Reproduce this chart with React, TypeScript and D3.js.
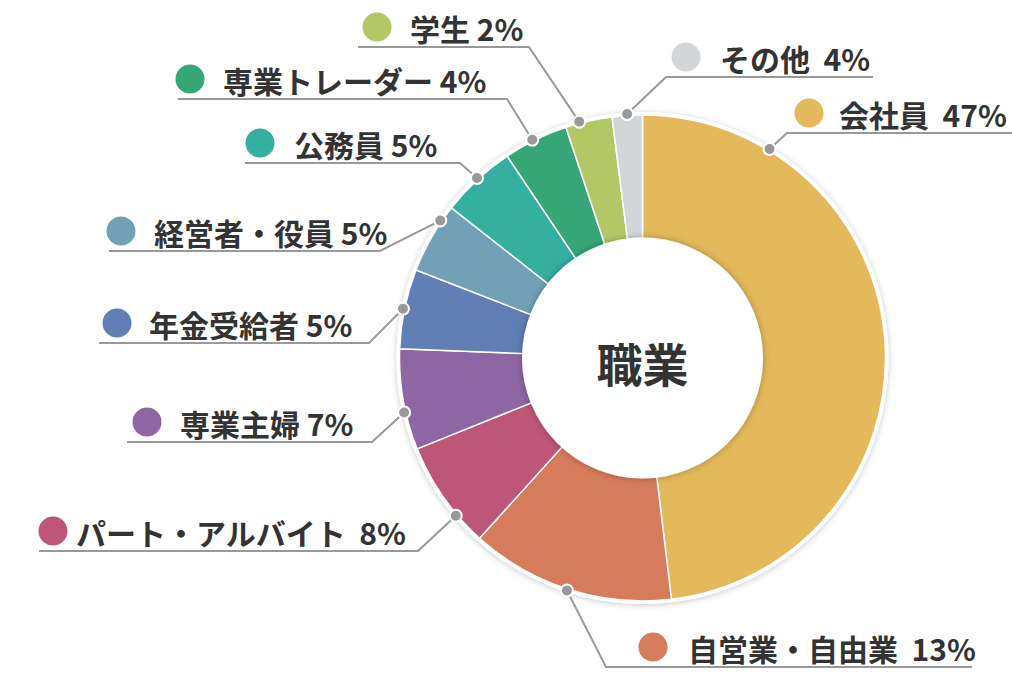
import React from "react";
import * as d3 from "d3";

const categories = [
  "会社員",
  "自営業・自由業",
  "パート・アルバイト",
  "専業主婦",
  "年金受給者",
  "経営者・役員",
  "公務員",
  "専業トレーダー",
  "学生",
  "その他",
];
// slice shares as drawn in the picture
const values = [48.1, 13.6, 7.2, 6.7, 5.3, 4.7, 5.0, 4.3, 3.1, 2.0];
const labelTexts = [
  "会社員  47%",
  "自営業・自由業  13%",
  "パート・アルバイト  8%",
  "専業主婦 7%",
  "年金受給者 5%",
  "経営者・役員 5%",
  "公務員 5%",
  "専業トレーダー 4%",
  "学生 2%",
  "その他  4%",
];
const colors = [
  "#E3B95B",
  "#D67B5C",
  "#BD5678",
  "#8D66A3",
  "#617FB4",
  "#72A0B6",
  "#35AFA0",
  "#36A676",
  "#B3C865",
  "#D3D6D8",
];
const centerTitle = "職業";

// label layout: anchor angle on ring (deg, clockwise from top), elbow point, far end of leader, marker x, text x
const labelLayout = [
  { angle: 31.3, elbowX: 787, lineY: 133, endX: 1012, markerX: 809, textX: 839 },
  { angle: 198, elbowX: 606, lineY: 667, endX: 972, markerX: 653, textX: 688 },
  { angle: 229.8, elbowX: 418, lineY: 551, endX: 39, markerX: 53, textX: 76 },
  { angle: 257.1, elbowX: 372, lineY: 442, endX: 127, markerX: 147, textX: 180 },
  { angle: 281.6, elbowX: 369, lineY: 343, endX: 99, markerX: 117, textX: 149 },
  { angle: 304.2, elbowX: 380, lineY: 251, endX: 109, markerX: 121, textX: 154 },
  { angle: 317.4, elbowX: 460, lineY: 163, endX: 245, markerX: 260, textX: 294 },
  { angle: 333.2, elbowX: 507, lineY: 99, endX: 178, markerX: 190, textX: 223 },
  { angle: 345.0, elbowX: 529, lineY: 47, endX: 358, markerX: 377, textX: 410 },
  { angle: 356.4, elbowX: 666, lineY: 77, endX: 873, markerX: 686, textX: 720 },
];

const W = 1012;
const H = 684;
const cx = 642.5;
const cy = 358;
const R = 243;
const r0 = 120.5;

export default function App() {
  const pie = d3
    .pie<number>()
    .sort(null)
    .value((d) => d)
    .startAngle(0)
    .endAngle(2 * Math.PI);
  const arcs = pie(values);
  const arc = d3.arc<d3.PieArcDatum<number>>().innerRadius(0).outerRadius(R);
  const font = "'Noto Sans CJK JP', 'Noto Sans', sans-serif";

  return (
    <svg
      width={W}
      height={H}
      style={{ position: "fixed", left: 0, top: 0, background: "#fff" }}
    >
      <defs>
        <filter id="outerShadow" x="-20%" y="-20%" width="140%" height="140%">
          <feDropShadow dx="0" dy="1" stdDeviation="3" floodColor="#000" floodOpacity="0.22" />
        </filter>
        <filter id="innerShadow" x="-20%" y="-20%" width="140%" height="140%">
          <feDropShadow dx="0" dy="0" stdDeviation="3.5" floodColor="#000" floodOpacity="0.3" />
        </filter>
      </defs>
      <g transform={`translate(${cx},${cy})`}>
        <circle r={R + 3} fill="#fff" filter="url(#outerShadow)" />
        {arcs.map((a, i) => (
          <path
            key={categories[i]}
            d={arc(a) || ""}
            fill={colors[i]}
            stroke="#fff"
            strokeWidth={1.5}
          />
        ))}
        <circle r={r0} fill="#fff" filter="url(#innerShadow)" />
        <text
          x={0}
          y={4}
          textAnchor="middle"
          dominantBaseline="central"
          fontFamily={font}
          fontWeight={700}
          fontSize={46}
          fill="#333"
        >
          {centerTitle}
        </text>
      </g>
      {labelLayout.map((l, i) => {
        const [px, py] = d3.pointRadial((l.angle * Math.PI) / 180, R + 1.5);
        const dotX = cx + px;
        const dotY = cy + py;
        const markerY = l.lineY - 20;
        return (
          <g key={"lbl" + i}>
            <polyline
              points={`${dotX},${dotY} ${l.elbowX},${l.lineY} ${l.endX},${l.lineY}`}
              fill="none"
              stroke="#999"
              strokeWidth={2}
            />
            <circle cx={dotX} cy={dotY} r={6} fill="#999" stroke="#fff" strokeWidth={2} />
            <circle cx={l.markerX} cy={markerY} r={14.5} fill={colors[i]} />
            <text
              x={l.textX}
              y={markerY + 1}
              dominantBaseline="central"
              fontFamily={font}
              fontWeight={700}
              fontSize={30}
              fill="#333"
              style={{ whiteSpace: "pre" }}
            >
              {labelTexts[i]}
            </text>
          </g>
        );
      })}
    </svg>
  );
}
